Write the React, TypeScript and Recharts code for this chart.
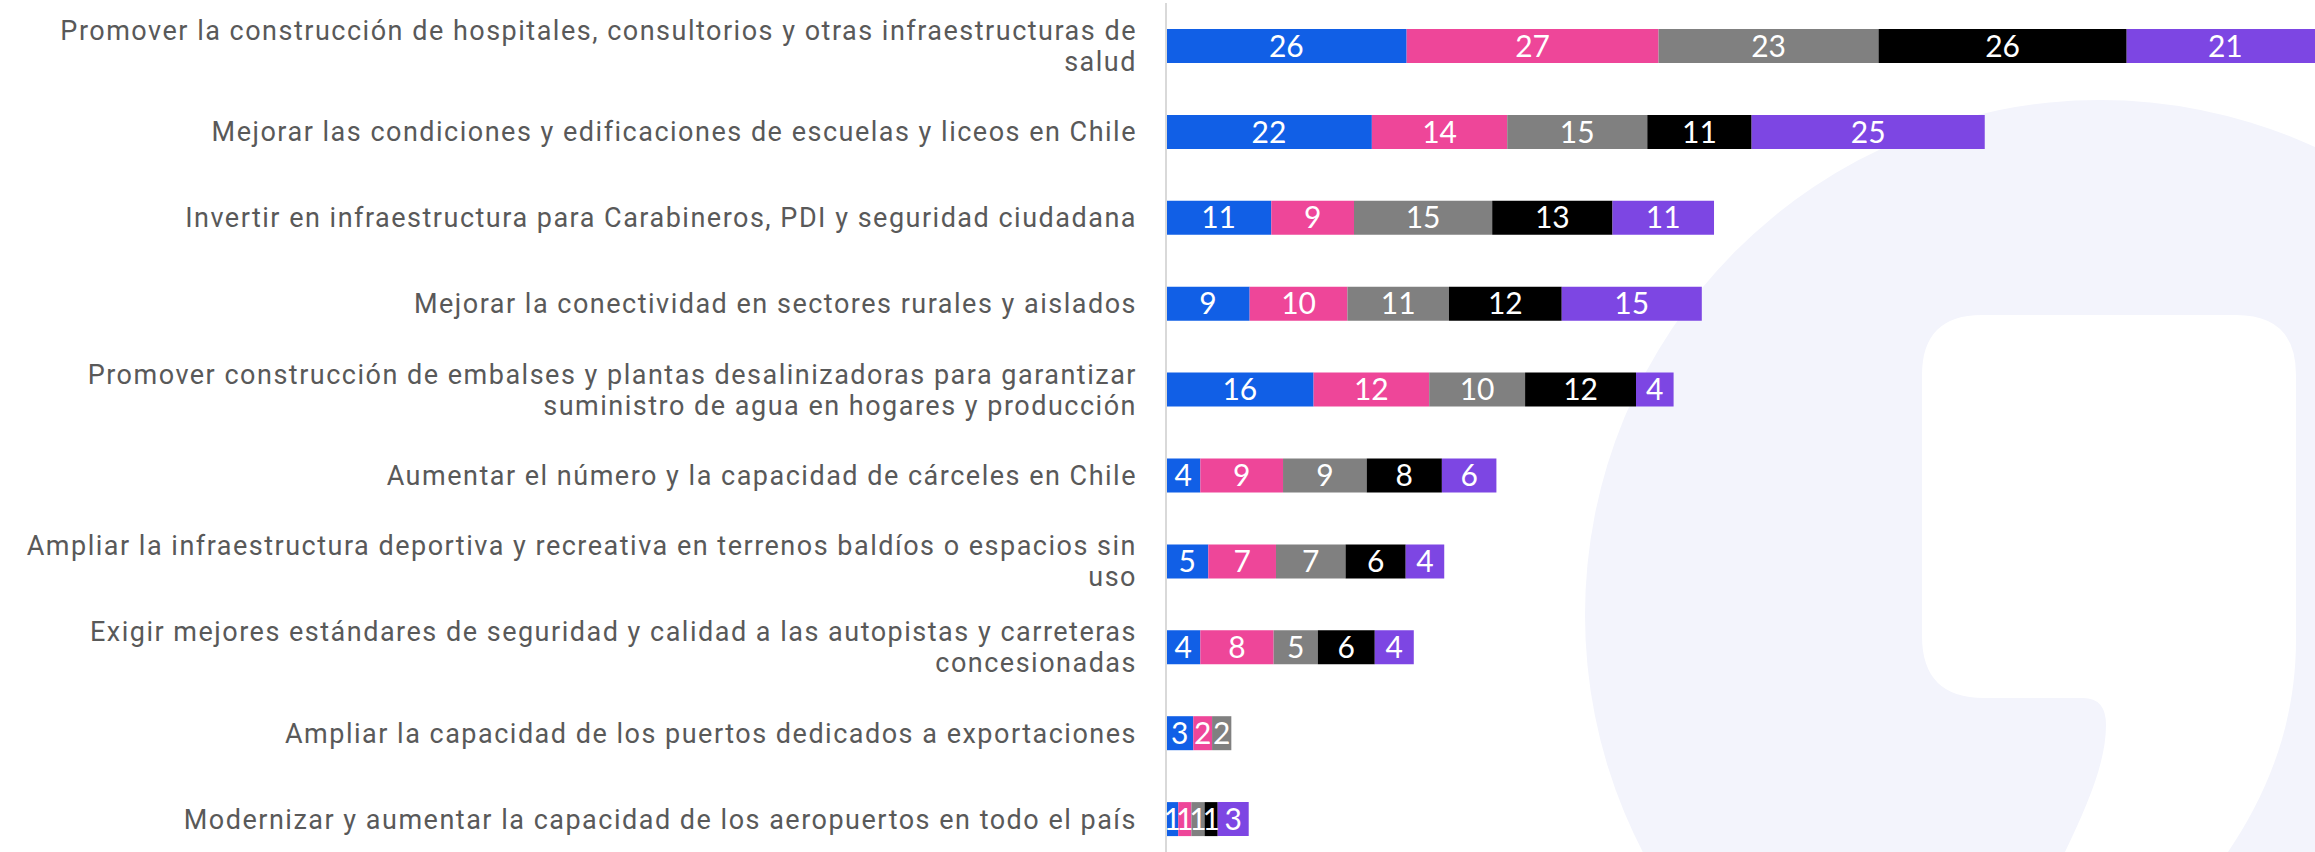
import { BarChart, Bar, XAxis, YAxis, LabelList } from 'recharts';

const categories = [
  'Promover la construcción de hospitales, consultorios y otras infraestructuras de\nsalud',
  'Mejorar las condiciones y edificaciones de escuelas y liceos en Chile',
  'Invertir en infraestructura para Carabineros, PDI y seguridad ciudadana',
  'Mejorar la conectividad en sectores rurales y aislados',
  'Promover construcción de embalses y plantas desalinizadoras para garantizar\nsuministro de agua en hogares y producción',
  'Aumentar el número y la capacidad de cárceles en Chile',
  'Ampliar la infraestructura deportiva y recreativa en terrenos baldíos o espacios sin\nuso',
  'Exigir mejores estándares de seguridad y calidad a las autopistas y carreteras\nconcesionadas',
  'Ampliar la capacidad de los puertos dedicados a exportaciones',
  'Modernizar y aumentar la capacidad de los aeropuertos en todo el país',
];

// values, labels show them rounded
const serie1 = [25.6, 21.9, 11.2, 8.9, 15.7, 3.65, 4.5, 3.65, 2.9, 1.3];
const serie2 = [26.8, 14.4, 8.8, 10.4, 12.3, 8.8, 7.2, 7.8, 2.0, 1.4];
const serie3 = [23.4, 14.9, 14.7, 10.8, 10.2, 8.9, 7.4, 4.7, 2.05, 1.4];
const serie4 = [26.4, 11.1, 12.8, 12.0, 11.8, 8.0, 6.4, 6.06, 0, 1.4];
const serie5 = [21, 24.8, 10.8, 14.9, 4.0, 5.8, 4.1, 4.15, 0, 3.3];

const series = [
  { key: 's1', values: serie1, color: '#115FE6' },
  { key: 's2', values: serie2, color: '#EE4699' },
  { key: 's3', values: serie3, color: '#808080' },
  { key: 's4', values: serie4, color: '#000000' },
  { key: 's5', values: serie5, color: '#7D46E3' },
];

const data = categories.map((name, i) => {
  const row: Record<string, string | number> = { name };
  series.forEach((s) => {
    row[s.key] = s.values[i];
  });
  return row;
});

const CategoryTick = (props: any) => {
  const { x, y, payload } = props;
  const lines = String(payload.value).split('\n');
  const lh = 31;
  const y0 = y - ((lines.length - 1) * lh) / 2;
  return (
    <text
      x={x}
      textAnchor="end"
      fill="#595959"
      fontSize={27}
      fontFamily="Roboto"
      style={{ letterSpacing: '1.5px' }}
    >
      {lines.map((l, i) => (
        <tspan key={i} x={x} y={y0 + i * lh} dy="0.35em">
          {l}
        </tspan>
      ))}
    </text>
  );
};

const fmt = (v: any) => {
  const n = Math.round(Number(v));
  return n > 0 ? String(n) : '';
};

// background logo shape
const Watermark = () => (
  <svg width={2315} height={852} style={{ position: 'absolute', left: 0, top: 0 }}>
    <circle cx={2100} cy={615} r={515} fill="#F3F4FC" />
    <path
      d="M 1982,315 L 2236,315 Q 2296,315 2296,375 L 2296,640 C 2296,720 2270,790 2228,852 L 2065,852 C 2090,800 2106,760 2106,725 Q 2106,698 2083,698 L 1984,698 Q 1922,698 1922,636 L 1922,375 Q 1922,315 1982,315 Z"
      fill="#FFFFFF"
    />
  </svg>
);

export default function App() {
  return (
    <div
      style={{
        position: 'fixed',
        left: 0,
        top: 0,
        width: 2315,
        height: 852,
        overflow: 'hidden',
        background: '#fff',
      }}
    >
      <Watermark />
      <div style={{ position: 'absolute', left: 0, top: 0 }}>
        <BarChart
          layout="vertical"
          width={2341}
          height={862}
          data={data}
          margin={{ top: 3, right: 0, bottom: 0, left: 0 }}
          barSize={34}
        >
          <XAxis type="number" domain={[0, 125]} hide />
          <YAxis
            type="category"
            dataKey="name"
            width={1166}
            interval={0}
            tickLine={false}
            tickSize={0}
            tickMargin={29}
            axisLine={{ stroke: '#D9D9D9', strokeWidth: 2 }}
            tick={(p: any) => <CategoryTick {...p} />}
          />
          {series.map((s) => (
            <Bar key={s.key} dataKey={s.key} stackId="a" fill={s.color} isAnimationActive={false}>
              <LabelList
                dataKey={s.key}
                position="center"
                formatter={fmt}
                fill="#FFFFFF"
                fontSize={30}
                fontFamily="Lato"
              />
            </Bar>
          ))}
        </BarChart>
      </div>
    </div>
  );
}
